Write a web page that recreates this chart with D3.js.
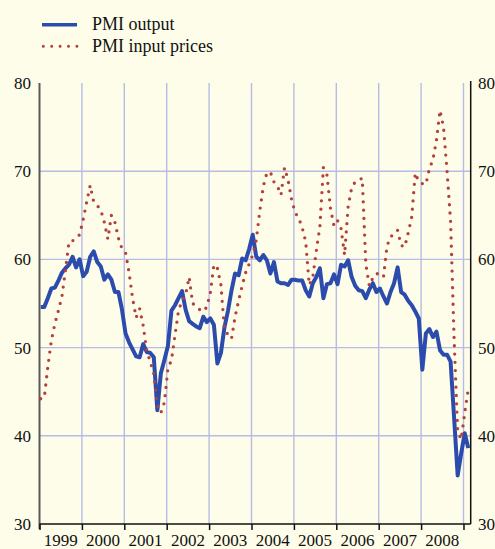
<!DOCTYPE html>
<html>
<head>
<meta charset="utf-8">
<script src="https://cdn.jsdelivr.net/npm/d3@7"></script>
<style>
  html, body { margin: 0; padding: 0; background: #fefde9; }
  svg { display: block; }
</style>
</head>
<body>
<div id="chart"></div>
<script>
// ---- Data (monthly, Jan 1999 – Feb 2009) ----
const startYear = 1999;
const yearLabels = ["1999","2000","2001","2002","2003","2004","2005","2006","2007","2008"];
const yTickValues = [30, 40, 50, 60, 70, 80];
const seriesNames = ["PMI output", "PMI input prices"];

const pmiOutput = [
  54.6, 54.6, 55.6, 56.7, 56.8, 57.6, 58.5, 59.0, 59.4, 60.3, 59.1, 60.0,
  58.1, 58.6, 60.3, 60.9, 59.7, 59.2, 57.7, 58.3, 57.7, 56.3, 56.3, 54.3,
  51.6, 50.6, 49.8, 49.0, 48.9, 50.4, 49.5, 49.4, 48.9, 42.9, 47.1, 48.6,
  50.2, 54.2, 54.8, 55.6, 56.4, 54.3, 53.0, 52.7, 52.4, 52.2, 53.5, 52.9,
  53.3, 52.6, 48.2, 49.4, 52.3, 54.2, 56.5, 58.4, 58.2, 60.1, 59.9, 61.2,
  62.8, 60.3, 59.9, 60.5, 59.9, 58.4, 59.7, 57.5, 57.3, 57.3, 57.1, 57.7,
  57.7, 57.6, 57.6, 56.5, 55.8, 57.3, 58.0, 59.0, 55.6, 57.2, 57.3, 58.3,
  57.2, 59.4, 59.2, 59.9, 58.0, 57.0, 56.5, 56.4, 55.6, 56.6, 57.3, 56.3,
  56.7, 55.8, 55.0, 56.3, 57.3, 59.1, 56.3, 56.0, 55.3, 54.8, 54.1, 53.3,
  47.5, 51.6, 52.1, 51.2, 51.8, 49.7, 49.2, 49.2, 48.4, 42.0, 35.5, 38.0,
  40.3, 38.6
];

const pmiInputPrices = [
  44.2, 44.3, 47.8, 50.8, 52.7, 54.2, 55.8, 58.8, 62.0, 62.1, 62.4, 62.8,
  64.5, 66.5, 68.4, 66.5, 66.1, 65.6, 64.2, 62.3, 65.0, 64.2, 62.4, 61.2,
  60.8, 58.5, 55.6, 53.4, 54.4, 52.5, 49.6, 48.4, 47.0, 43.5, 42.6, 43.8,
  47.6, 48.6, 51.4, 54.2, 55.3, 56.0, 58.0, 55.0, 54.7, 54.3, 54.1, 54.6,
  56.2, 59.4, 59.0, 57.1, 52.0, 51.5, 51.0, 53.5, 55.3, 57.0, 58.5, 59.5,
  60.5, 62.2, 65.5, 68.3, 69.8, 69.9, 68.8, 68.3, 67.3, 70.4, 69.0, 66.8,
  65.3, 64.7, 63.6, 62.0, 57.1, 58.0, 61.0, 63.7, 70.4, 69.6, 65.8, 63.8,
  64.4, 63.5, 60.5, 66.0, 68.1, 68.8, 69.0, 69.2, 59.5, 57.0, 57.9, 58.4,
  58.3, 58.0, 61.5, 62.6, 62.8, 63.3, 61.6, 61.4, 63.0, 64.8, 69.8, 68.8,
  68.6, 68.5, 70.3, 71.3, 73.5, 76.9, 75.0, 70.0, 64.3, 50.9, 40.5, 39.6,
  42.6, 45.3
];

// ---- Layout ----
const W = 495, H = 549;
const plot = { left: 39.5, right: 470.7, top: 83, bottom: 524 };
const colors = { output: "#2c4cad", input: "#b3403a", grid: "#b6bce6", axis: "#111", leftAxis: "#5a5a5a" };
const serif = "'Liberation Serif', 'DejaVu Serif', serif";

const svg = d3.select("#chart").append("svg").attr("width", W).attr("height", H)
  .attr("font-family", serif);
svg.append("rect").attr("width", W).attr("height", H).attr("fill", "#fefde9");

const x = d3.scaleLinear().domain([startYear, 2009.17]).range([plot.left, plot.right]);
const y = d3.scaleLinear().domain([30, 80]).range([plot.bottom, plot.top]);

const monthDate = i => startYear + (i + 0.35) / 12;

// ---- Grid ----
const gridYears = d3.range(2000, 2010);
svg.append("g").selectAll("line").data(gridYears).join("line")
  .attr("x1", d => x(d)).attr("x2", d => x(d))
  .attr("y1", y(80)).attr("y2", y(30))
  .attr("stroke", colors.grid).attr("stroke-width", 1.4);

svg.append("g").selectAll("line").data([40, 50, 60, 70]).join("line")
  .attr("x1", x(startYear)).attr("x2", plot.right)
  .attr("y1", d => y(d)).attr("y2", d => y(d))
  .attr("stroke", colors.grid).attr("stroke-width", 1.4);

// ---- Axes ----
svg.append("line").attr("x1", x(startYear)).attr("x2", x(startYear))
  .attr("y1", y(80)).attr("y2", y(30) + 5)
  .attr("stroke", colors.leftAxis).attr("stroke-width", 2);
svg.append("line").attr("x1", plot.right).attr("x2", plot.right)
  .attr("y1", y(80) - 2).attr("y2", y(30))
  .attr("stroke", colors.axis).attr("stroke-width", 1.5);

const xAxis = d3.axisBottom(x)
  .tickValues(d3.range(1999, 2010))
  .tickSize(6).tickSizeOuter(0).tickFormat("");
const gx = svg.append("g").attr("transform", `translate(0,${plot.bottom})`).call(xAxis);
gx.select(".domain").attr("stroke", colors.axis).attr("stroke-width", 1.5)
  .attr("d", `M${x(startYear)},0H${plot.right}`);
gx.selectAll(".tick line").attr("stroke", colors.axis).attr("stroke-width", 1.5);

svg.append("g").selectAll("text").data(yearLabels).join("text")
  .attr("x", d => x(+d + 0.5)).attr("y", 545.5)
  .attr("text-anchor", "middle").attr("font-size", 17).attr("fill", "#111")
  .text(d => d);

svg.append("g").selectAll("text").data(yTickValues).join("text")
  .attr("x", 31).attr("y", d => y(d) + 6)
  .attr("text-anchor", "end").attr("font-size", 17).attr("fill", "#111").text(d => d);
svg.append("g").selectAll("text").data(yTickValues).join("text")
  .attr("x", 478).attr("y", d => y(d) + 6)
  .attr("text-anchor", "start").attr("font-size", 17).attr("fill", "#111").text(d => d);

// ---- Lines ----
const line = d3.line().x((d, i) => x(monthDate(i))).y(d => y(d));

svg.append("path").datum(pmiOutput)
  .attr("d", line).attr("fill", "none")
  .attr("stroke", colors.output).attr("stroke-width", 4)
  .attr("stroke-linejoin", "round");

svg.append("path").datum(pmiInputPrices)
  .attr("d", line).attr("fill", "none")
  .attr("stroke", colors.input).attr("stroke-width", 3.3)
  .attr("stroke-linecap", "round").attr("stroke-dasharray", "0 8.3");

// ---- Legend ----
const legend = svg.append("g");
legend.append("line").attr("x1", 42).attr("x2", 77).attr("y1", 24.7).attr("y2", 24.7)
  .attr("stroke", colors.output).attr("stroke-width", 3.4);
legend.append("line").attr("x1", 43.3).attr("x2", 77).attr("y1", 46.3).attr("y2", 46.3)
  .attr("stroke", colors.input).attr("stroke-width", 3)
  .attr("stroke-linecap", "round").attr("stroke-dasharray", "0 8.4");
legend.append("text").attr("x", 92).attr("y", 29.5).attr("font-size", 18).attr("fill", "#111").text(seriesNames[0]);
legend.append("text").attr("x", 92).attr("y", 52).attr("font-size", 18).attr("fill", "#111").text(seriesNames[1]);
</script>
</body>
</html>
